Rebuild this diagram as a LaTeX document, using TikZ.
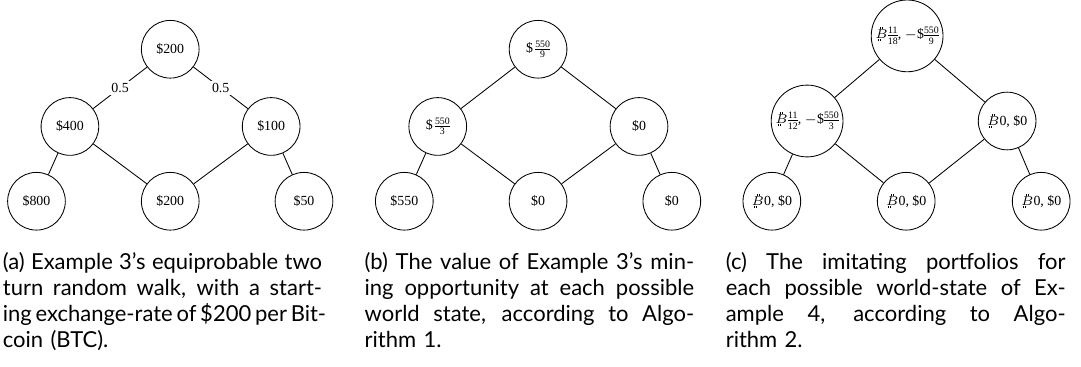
\documentclass[tikz,border=0pt]{standalone}
\usepackage{amsmath}
\usepackage{fontspec}
\setmainfont{Liberation Serif}
\newfontfamily\capfont{Lato}
\usetikzlibrary{positioning}
% bitcoin sign: B with two short strokes above and below
\newcommand{\btc}{\rlap{\kern.17em\rule[-.32ex]{.045em}{.32ex}\kern.09em\rule[-.32ex]{.045em}{.32ex}}\rlap{\kern.36em\rule[1.5ex]{.045em}{.32ex}\kern.09em\rule[1.5ex]{.045em}{.32ex}}$B$}
% small fraction in text figures
\newcommand{\frs}{\fontsize{4.6}{5}\selectfont}
\newcommand{\fr}[2]{{\nulldelimiterspace=0pt$\genfrac{}{}{}{}{\mbox{\frs #1}}{\mbox{\frs #2}}$}}
% one justified caption line
\newcommand{\jl}[1]{\makebox[\hsize][s]{\spaceskip=\fontdimen2\font plus 1em minus \fontdimen4\font\relax #1}}

\begin{document}
\begin{tikzpicture}[font=\fontsize{6.5}{7.5}\selectfont,on grid]
\tikzset{st/.style={draw,circle,thin,minimum size=27pt,inner sep=1.2pt},
  pr/.style={fill=white,inner sep=1pt},
  cap/.style={anchor=north west,inner sep=0pt,text width=#1,align=left,font=\capfont\fontsize{10.3}{12.1}\selectfont}}
\useasboundingbox (0,0) rectangle (17.78,6.02);

% (a) random walk of the rate
\node[st] (a0) at (2.80,5.21) {\$200};
\node[st,below left=1.27cm and 1.65cm of a0] (a1) {\$400};
\node[st,below right=1.27cm and 1.66cm of a0] (a2) {\$100};
\node[st,below left=1.23cm and 0.55cm of a1] (a3) {\$800};
\node[st,below right=1.23cm and 1.65cm of a1] (a4) {\$200};
\node[st,below right=1.23cm and 0.54cm of a2] (a5) {\$50};
\draw (a0)--(a1) node[midway,pr]{0.5};
\draw (a0)--(a2) node[midway,pr]{0.5};
\draw (a1)--(a3);
\draw (a1)--(a4);
\draw (a2)--(a4);
\draw (a2)--(a5);
\node[cap=5.25cm] (capa) at (0.04,1.87) {\jl{(a) Example 3’s equiprobable two}\\\jl{turn random walk, with a start-}\\\jl{ing exchange-rate of \$200 per Bit-}\\coin (BTC).};

% (b) value of the mining opportunity
\node[st] (b0) at (8.85,5.21) {\$\,\fr{550}{9}};
\node[st,below left=1.27cm and 1.65cm of b0] (b1) {\$\,\fr{550}{3}};
\node[st,below right=1.27cm and 1.66cm of b0] (b2) {\$0};
\node[st,below left=1.23cm and 0.55cm of b1] (b3) {\$550};
\node[st,below right=1.23cm and 1.65cm of b1] (b4) {\$0};
\node[st,below right=1.23cm and 0.54cm of b2] (b5) {\$0};
\draw (b0)--(b1);
\draw (b0)--(b2);
\draw (b1)--(b3);
\draw (b1)--(b4);
\draw (b2)--(b4);
\draw (b2)--(b5);
\node[cap=5.42cm] (capb) at (5.99,1.87) {\jl{(b) The value of Example 3’s min-}\\\jl{ing opportunity at each possible}\\\jl{world state, according to Algo-}\\rithm 1.};

% (c) imitating portfolios
\node[st] (c0) at (14.92,5.43) {\btc\fr{11}{18}, $-$\$\fr{550}{9}};
\node[st,below left=1.40cm and 1.645cm of c0] (c1) {\btc\fr{11}{12}, $-$\$\fr{550}{3}};
\node[st,below right=1.40cm and 1.645cm of c0] (c2) {\btc0, \$0};
\node[st,below left=1.32cm and 0.58cm of c1] (c3) {\btc0, \$0};
\node[st,below right=1.32cm and 1.63cm of c1] (c4) {\btc0, \$0};
\node[st,below right=1.32cm and 0.56cm of c2] (c5) {\btc0, \$0};
\draw (c0)--(c1);
\draw (c0)--(c2);
\draw (c1)--(c3);
\draw (c1)--(c4);
\draw (c2)--(c4);
\draw (c2)--(c5);
\node[cap=5.59cm] (capc) at (11.93,1.87) {\jl{(c) The imitating portfolios for}\\\jl{each possible world-state of Ex-}\\\jl{ample 4, according to Algo-}\\rithm 2.};
\end{tikzpicture}
\end{document}
